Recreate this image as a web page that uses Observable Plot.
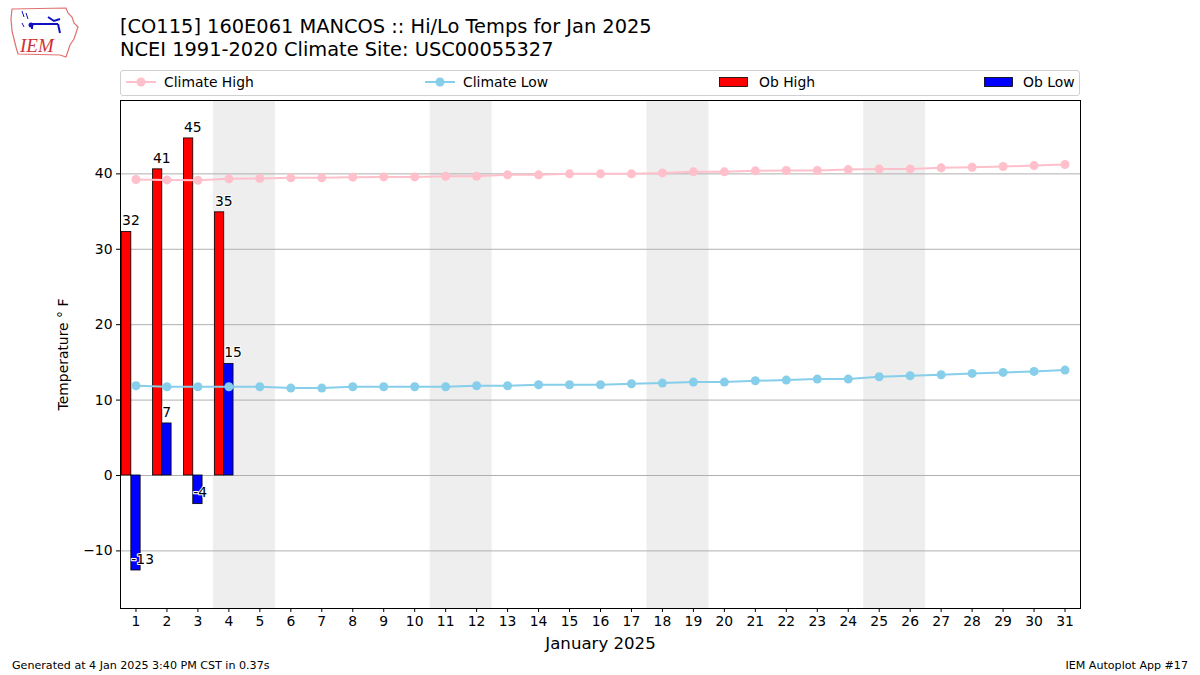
<!DOCTYPE html>
<html>
<head>
<meta charset="utf-8">
<script src="https://cdn.jsdelivr.net/npm/d3@7"></script>
<script src="https://cdn.jsdelivr.net/npm/@observablehq/plot@0.6"></script>
<style>
  html, body { margin: 0; padding: 0; background: #fff; }
  body { width: 1200px; height: 675px; position: relative; overflow: hidden; font-family: "DejaVu Sans", sans-serif; color: #000; }
  .abs { position: absolute; white-space: nowrap; }
  #title { left: 120px; top: 16px; font-size: 19.4px; line-height: 22.5px; }
  #legend { left: 120px; top: 70px; width: 958px; height: 24px; border: 1px solid #d0d0d0; border-radius: 3px; background: #fff; }
  .leg { position: absolute; top: 0; height: 22px; display: flex; align-items: center; font-size: 13.9px; }
  .leg svg { margin-right: 8px; }
  #footL { left: 12px; top: 659px; font-size: 11.1px; }
  #footR { right: 12px; top: 659px; font-size: 11.1px; }
  #chart { position: absolute; left: 0; top: 0; }
  #logo { left: 8px; top: 5px; }
</style>
</head>
<body>
<div id="chart"></div>
<svg id="logo" class="abs" width="74" height="56" viewBox="0 0 74 56">
  <path d="M4,4 L58,3 L60,8 L64,12 L66,18 L70,22 L68,28 L66,34 L62,40 L60,46 L58,52 L52,50 L10,49 L8,42 L6,34 L4,26 L3,14 Z" fill="#fff" stroke="#e07070" stroke-width="1.2"/>
  <text x="12" y="47" font-family="Liberation Serif, serif" font-style="italic" font-size="19" fill="#d03030">IEM</text>
  <path d="M22,19 L50,19 M40,12 L46,16 L52,14 M50,19 L52,28 M24,19 L24,24" stroke="#1010c0" stroke-width="2" fill="none"/>
  <circle cx="23" cy="20" r="2.5" fill="#1010c0"/>
  <path d="M14,6 L16,12 M18,8 L20,14 M14,18 L16,22" stroke="#1010c0" stroke-width="1" fill="none"/>
</svg>
<div id="title" class="abs">[CO115] 160E061 MANCOS :: Hi/Lo Temps for Jan 2025<br>NCEI 1991-2020 Climate Site: USC00055327</div>
<div id="legend" class="abs">
  <div class="leg" style="left:5px"><svg width="30" height="12"><line x1="0" y1="6" x2="30" y2="6" stroke="#ffc0cb" stroke-width="2"/><circle cx="15" cy="6" r="4.5" fill="#ffc0cb"/></svg>Climate High</div>
  <div class="leg" style="left:304px"><svg width="30" height="12"><line x1="0" y1="6" x2="30" y2="6" stroke="#87ceeb" stroke-width="2"/><circle cx="15" cy="6" r="4.5" fill="#87ceeb"/></svg>Climate Low</div>
  <div class="leg" style="left:598px"><svg width="30" height="12"><rect x="0.5" y="1.5" width="28" height="9" fill="#ff0000" stroke="#000" stroke-width="0.8"/></svg><span style="margin-left:2px">Ob High</span></div>
  <div class="leg" style="left:863px"><svg width="30" height="12"><rect x="0.5" y="1.5" width="28" height="9" fill="#0000ff" stroke="#000" stroke-width="0.8"/></svg><span style="margin-left:1px">Ob Low</span></div>
</div>
<div id="footL" class="abs">Generated at 4 Jan 2025 3:40 PM CST in 0.37s</div>
<div id="footR" class="abs">IEM Autoplot App #17</div>
<script>
// ---- data ----
const days = [1,2,3,4,5,6,7,8,9,10,11,12,13,14,15,16,17,18,19,20,21,22,23,24,25,26,27,28,29,30,31];
const climateHigh = [39.25,39.2,39.16,39.34,39.38,39.47,39.47,39.56,39.6,39.6,39.69,39.69,39.87,39.87,40.0,40.0,40.0,40.13,40.27,40.27,40.4,40.44,40.44,40.57,40.66,40.66,40.8,40.88,40.97,41.1,41.24];
const climateLow = [11.9,11.77,11.77,11.77,11.77,11.59,11.59,11.77,11.77,11.77,11.77,11.9,11.9,12.03,12.03,12.03,12.17,12.25,12.39,12.39,12.56,12.65,12.78,12.78,13.1,13.23,13.36,13.54,13.67,13.8,13.98];
const obDays = [1,2,3,4];
const obHigh = [32.3,40.6,44.7,34.9];
const obLow = [-12.6,6.9,-3.8,14.8];
const weekendStarts = [4,11,18,25];
const yTicks = [-10,0,10,20,30,40];

// ---- tables ----
const clim = days.map((d,i) => ({day: d, hi: climateHigh[i], lo: climateLow[i]}));
const obs = obDays.map((d,i) => ({day: d, hi: obHigh[i], lo: obLow[i]}));
const barW = 0.3;

const chart = Plot.plot({
  width: 1200,
  height: 675,
  marginLeft: 120,
  marginRight: 120,
  marginTop: 100,
  marginBottom: 67,
  style: {fontFamily: "DejaVu Sans, sans-serif", fontSize: "13.9px", color: "#000", background: "transparent", overflow: "visible"},
  x: {domain: [0.5, 31.5]},
  y: {domain: [-17.64, 49.73]},
  marks: [
    Plot.rect(weekendStarts, {x1: d => d - 0.5, x2: d => d + 1.5, fill: "#eeeeee"}),
    Plot.gridY(yTicks, {stroke: "#b0b0b0", strokeOpacity: 1, strokeWidth: 1}),
    Plot.rect(obs, {x1: d => d.day - 1.5*barW, x2: d => d.day - 0.5*barW, y1: 0, y2: "hi", fill: "#ff0000", stroke: "#000", strokeWidth: 0.8}),
    Plot.rect(obs, {x1: d => d.day - 0.5*barW, x2: d => d.day + 0.5*barW, y1: 0, y2: "lo", fill: "#0000ff", stroke: "#000", strokeWidth: 0.8}),
    Plot.line(clim, {x: "day", y: "hi", stroke: "#ffc0cb", strokeWidth: 2}),
    Plot.dot(clim, {x: "day", y: "hi", fill: "#ffc0cb", r: 4.5}),
    Plot.line(clim, {x: "day", y: "lo", stroke: "#87ceeb", strokeWidth: 2}),
    Plot.dot(clim, {x: "day", y: "lo", fill: "#87ceeb", r: 4.5}),
    Plot.text(obs, {x: d => d.day - 1.5*barW, y: d => d.hi + 0.9, text: d => String(Math.round(d.hi)), textAnchor: "start", lineAnchor: "bottom", fill: "#000", stroke: "#fff", strokeWidth: 2, fontSize: 13.9}),
    Plot.text(obs, {x: d => d.day - 0.5*barW, y: d => d.lo + 0.9, text: d => String(Math.round(d.lo)), textAnchor: "start", lineAnchor: "bottom", fill: "#000", stroke: "#fff", strokeWidth: 2, fontSize: 13.9}),
    Plot.frame({stroke: "#000", strokeWidth: 1}),
    Plot.axisY(yTicks, {tickSize: 4, tickPadding: 4, label: "Temperature ° F", labelAnchor: "center", labelArrow: "none", labelOffset: 62, fontSize: 13.9}),
    Plot.axisX(days, {tickSize: 4, tickPadding: 4, label: null, fontSize: 13.9}),
    Plot.text(["January 2025"], {frameAnchor: "bottom", dy: 40, text: d => d, fontSize: 16.6, fill: "#000", lineAnchor: "bottom"})
  ]
});
document.getElementById("chart").appendChild(chart);
</script>
</body>
</html>
